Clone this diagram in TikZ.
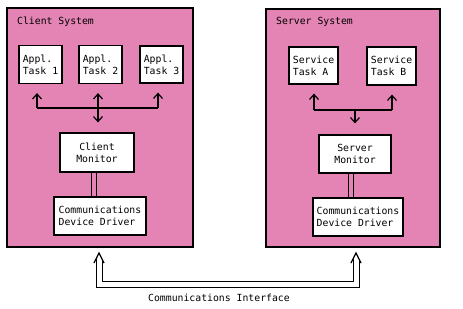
\documentclass[tikz,border=0pt]{standalone}
\usepackage{fontspec}
\setmonofont{DejaVu Sans Mono}
\usetikzlibrary{arrows.meta,calc}
\definecolor{dither}{RGB}{228,132,180}
\tikzset{
  sys/.style={draw, line width=1.8pt, fill=dither, inner sep=0pt},
  box/.style={draw, line width=1.2pt, fill=white, inner sep=0pt,
    font=\ttfamily\fontsize{9.8}{12}\selectfont},
  lbl/.style={font=\ttfamily\fontsize{9.8}{12}\selectfont, inner sep=0pt},
  arr/.style={line width=1.2pt, -{Straight Barb[length=5pt,width=9pt,line width=1.2pt]}},
  ln/.style={line width=1.2pt},
  dbl/.style={line width=1pt, double=dither, double distance=4.5pt},
  dblw/.style={line width=1pt, double=white, double distance=5pt},
  chev/.style={line width=1.2pt, line join=miter}
}
\begin{document}
\begin{tikzpicture}[x=1pt,y=-1pt]
\useasboundingbox (0,0) rectangle (463,308);
\fill[white] (0,0) rectangle (463,308);

% client system
\node[sys, minimum width=186, minimum height=239] (cs) at (100,127.5) {};
\node[lbl, anchor=west] (ct) at (17,22) {Client System};
\node[box, minimum width=43, minimum height=38, align=left] (t1) at (40.5,64.5) {Appl.\\Task 1};
\node[box, minimum width=43, minimum height=38, align=left] (t2) at (100.5,64.5) {Appl.\\Task 2};
\node[box, minimum width=43, minimum height=37, align=left] (t3) at (161.5,64.5) {Appl.\\Task 3};
\node[box, minimum width=74, minimum height=39, align=center] (cm) at (97,152.5) {Client\\Monitor};
\node[box, minimum width=92, minimum height=38, align=left] (cd) at (100,216) {Communications\\Device Driver};

\coordinate (cb1) at (37,108);
\coordinate (cb2) at (98,108);
\coordinate (cb3) at (158,108);
\draw[ln] (cb1) -- (cb3);
\draw[arr, shorten >=9pt] (cb1) -- (cb1 |- t1.south);
\draw[arr, shorten >=9pt] (cb2) -- (cb2 |- t2.south);
\draw[arr, shorten >=9pt] (cb3) -- (cb3 |- t3.south);
\draw[arr, shorten >=10pt] (cb2) -- (cb2 |- cm.north);
\coordinate (cdl) at (94,172);
\draw[dbl] (cdl |- cm.south) -- (cdl |- cd.north);

% server system
\node[sys, minimum width=174, minimum height=238] (ss) at (353,128) {};
\node[lbl, anchor=west] (st) at (276,22) {Server System};
\node[box, minimum width=49, minimum height=37, align=left] (sa) at (313.5,65.5) {Service\\Task A};
\node[box, minimum width=49, minimum height=38, align=left] (sb) at (391.5,66) {Service\\Task B};
\node[box, minimum width=72, minimum height=38, align=center] (sm) at (355,154) {Server\\Monitor};
\node[box, minimum width=90, minimum height=38, align=left] (sd) at (358,217) {Communications\\Device Driver};

\coordinate (sb1) at (314,110);
\coordinate (sb2) at (355,110);
\coordinate (sb3) at (392,110);
\draw[ln] (sb1) -- (sb3);
\draw[arr, shorten >=9pt] (sb1) -- (sb1 |- sa.south);
\draw[arr, shorten >=9pt] (sb3) -- (sb3 |- sb.south);
\draw[arr, shorten >=11pt] (sb2) -- (sb2 |- sm.north);
\coordinate (sdl) at (351,173);
\draw[dbl] (sdl |- sm.south) -- (sdl |- sd.north);

% communications interface
\coordinate (lt) at (99,253);
\coordinate (rt) at (356,253);
\coordinate (bl) at (99,284.5);
\draw[dblw] ($(lt)+(0,6)$) -- (bl) -- (bl -| rt) -- ($(rt)+(0,6)$);
\draw[chev] ($(lt)+(-5,10)$) -- (lt) -- ($(lt)+(5,10)$);
\draw[chev] ($(rt)+(-5,10)$) -- (rt) -- ($(rt)+(5,10)$);
\node[lbl] (ci) at (219,298) {Communications Interface};
\end{tikzpicture}
\end{document}
